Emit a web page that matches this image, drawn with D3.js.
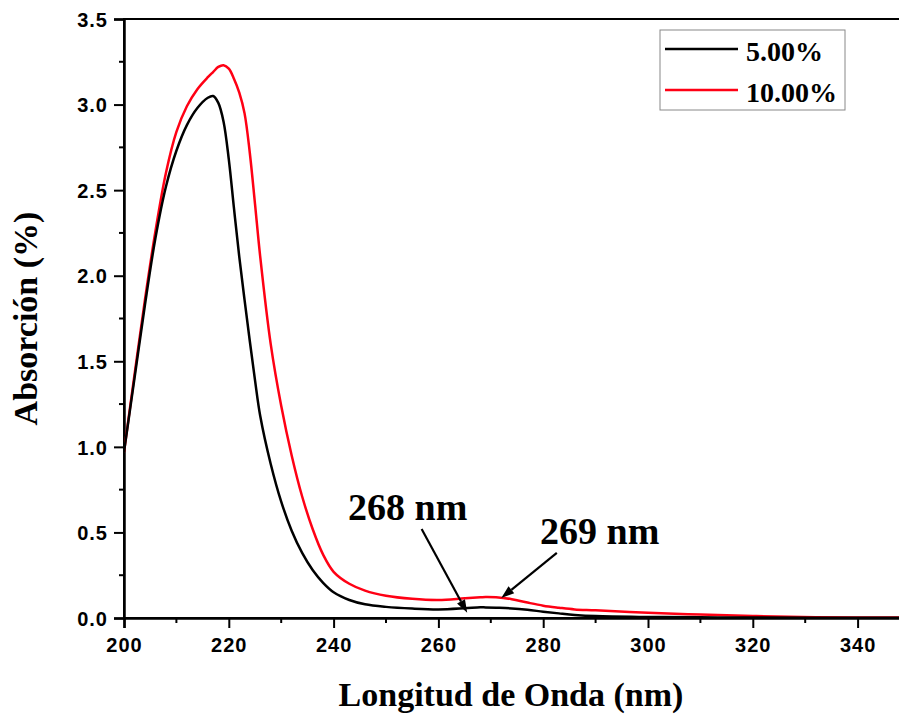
<!DOCTYPE html>
<html>
<head>
<meta charset="utf-8">
<script src="https://cdnjs.cloudflare.com/ajax/libs/d3/7.8.5/d3.min.js"></script>
<style>
    body { margin: 0; background: #fff; }
    .tick text { font-family: "Liberation Sans", Arial, sans-serif; font-weight: bold; font-size: 20px; letter-spacing: 1px; }
    .title { font-family: "Liberation Serif", "Times New Roman", serif; font-weight: bold; }
</style>
</head>
<body>
<svg id="chart" width="899" height="715"></svg>
<script>
// wavelength (nm) and absorption for both concentrations
var wavelength = [200, 202, 204, 206, 208, 210, 212, 214, 216, 217, 218, 219, 220, 221, 222, 223, 224, 225, 226,
                  228, 230, 232, 234, 236, 238, 240, 243, 246, 250, 255, 260, 265, 268, 269, 271, 274, 277, 280,
                  283, 286, 290, 300, 310, 320, 332, 350];
var abs5 = [0.97, 1.40, 1.83, 2.22, 2.52, 2.73, 2.88, 2.98, 3.04, 3.05, 3.01, 2.90, 2.68, 2.39, 2.11, 1.86, 1.62, 1.39, 1.18,
            0.90, 0.68, 0.51, 0.38, 0.28, 0.205, 0.150, 0.105, 0.080, 0.065, 0.055, 0.050, 0.057, 0.063, 0.062, 0.060, 0.056, 0.048, 0.037,
            0.027, 0.018, 0.011, 0.006, 0.004, 0.003, 0.002, 0.002];
var abs10 = [0.97, 1.42, 1.86, 2.26, 2.60, 2.84, 2.99, 3.09, 3.16, 3.19, 3.22, 3.23, 3.21, 3.15, 3.07, 2.95, 2.72, 2.42, 2.11,
             1.60, 1.24, 0.95, 0.71, 0.52, 0.37, 0.27, 0.20, 0.16, 0.130, 0.112, 0.105, 0.115, 0.121, 0.123, 0.121, 0.110, 0.090, 0.072,
             0.060, 0.050, 0.045, 0.030, 0.020, 0.012, 0.005, 0.003];

var seriesNames = ["5.00%", "10.00%"];
var seriesColors = ["#000000", "#ff0014"];

// peak labels: text, arrow start and arrow tip in data units
var peakLabels = ["268 nm", "269 nm"];
var arrowFrom = [[256.8, 0.52], [282.6, 0.38]];
var arrowTo = [[265.5, 0.03], [272.0, 0.117]];

var xTicks = [200, 220, 240, 260, 280, 300, 320, 340];
var yTicks = [0.0, 0.5, 1.0, 1.5, 2.0, 2.5, 3.0, 3.5];

var svg = d3.select("#chart");
var plotLeft = 124, plotTop = 19, plotRight = 910, plotBottom = 618;

var x = d3.scaleLinear().domain([200, 350]).range([plotLeft, plotRight]);
var y = d3.scaleLinear().domain([0, 3.5]).range([plotBottom, plotTop]);

svg.append("defs").append("clipPath").attr("id", "plotClip")
    .append("rect").attr("x", plotLeft).attr("y", plotTop)
    .attr("width", plotRight - plotLeft).attr("height", plotBottom - plotTop);

// frame
svg.append("rect")
    .attr("x", plotLeft).attr("y", plotTop)
    .attr("width", plotRight - plotLeft).attr("height", plotBottom - plotTop)
    .style("fill", "none").style("stroke", "#000").style("stroke-width", 2);

// minor ticks
svg.append("g").selectAll("line")
    .data(d3.range(210, 350, 20))
    .enter().append("line")
    .attr("x1", function(d) { return x(d); }).attr("x2", function(d) { return x(d); })
    .attr("y1", plotBottom).attr("y2", plotBottom + 5)
    .style("stroke", "#000").style("stroke-width", 2);
svg.append("g").selectAll("line")
    .data(d3.range(0.25, 3.5, 0.5))
    .enter().append("line")
    .attr("x1", plotLeft - 5).attr("x2", plotLeft)
    .attr("y1", function(d) { return y(d); }).attr("y2", function(d) { return y(d); })
    .style("stroke", "#000").style("stroke-width", 2);

var xAxis = svg.append("g")
    .attr("transform", "translate(0," + plotBottom + ")")
    .call(d3.axisBottom(x).tickValues(xTicks).tickFormat(d3.format("d")).tickSize(10).tickPadding(10));
var yAxis = svg.append("g")
    .attr("transform", "translate(" + plotLeft + ",0)")
    .call(d3.axisLeft(y).tickValues(yTicks).tickFormat(d3.format(".1f")).tickSize(10).tickPadding(6));

[xAxis, yAxis].forEach(function(a) {
    a.select(".domain").style("stroke-width", 2.5);
    a.selectAll(".tick line").style("stroke-width", 2);
    a.selectAll(".tick text").style("fill", "#000");
});
yAxis.selectAll(".tick text").attr("dy", "0.36em");

// curves
var rows = wavelength.map(function(w, i) { return { w: w, v: [abs5[i], abs10[i]] }; });
var plot = svg.append("g").attr("clip-path", "url(#plotClip)");

[1, 0].forEach(function(k) {
    var line = d3.line()
        .x(function(d) { return x(d.w); })
        .y(function(d) { return y(d.v[k]); })
        .curve(d3.curveCatmullRom.alpha(0.5));
    plot.append("path")
        .datum(rows)
        .attr("d", line)
        .style("fill", "none")
        .style("stroke", seriesColors[k])
        .style("stroke-width", 2.5)
        .style("stroke-linejoin", "round");
});

// axis titles
svg.append("text").attr("class", "title")
    .attr("x", 511).attr("y", 706)
    .attr("text-anchor", "middle")
    .style("font-size", "34px")
    .text("Longitud de Onda (nm)");
svg.append("text").attr("class", "title")
    .attr("transform", "translate(37," + (plotTop + plotBottom) / 2 + ") rotate(-90)")
    .attr("text-anchor", "middle")
    .style("font-size", "34px")
    .text("Absorción (%)");

// legend
var legend = svg.append("g");
legend.append("rect")
    .attr("x", 660).attr("y", 30).attr("width", 185).attr("height", 80)
    .style("fill", "#fff").style("stroke", "#888").style("stroke-width", 1);
seriesNames.forEach(function(name, i) {
    legend.append("line")
        .attr("x1", 665).attr("x2", 738)
        .attr("y1", 49 + i * 41).attr("y2", 49 + i * 41)
        .style("stroke", seriesColors[i]).style("stroke-width", 2.5);
    legend.append("text").attr("class", "title")
        .attr("x", 746).attr("y", 61 + i * 41)
        .style("font-size", "28px")
        .text(name);
});

// peak annotations
var labelPos = [[348, 520], [540, 544]];
peakLabels.forEach(function(t, i) {
    svg.append("text").attr("class", "title")
        .attr("x", labelPos[i][0]).attr("y", labelPos[i][1])
        .style("font-size", "38px")
        .text(t);

    var x0 = x(arrowFrom[i][0]), y0 = y(arrowFrom[i][1]);
    var x1 = x(arrowTo[i][0]), y1 = y(arrowTo[i][1]);
    var ang = Math.atan2(y1 - y0, x1 - x0);
    var len = 13, half = 4.5;
    var bx = x1 - len * Math.cos(ang), by = y1 - len * Math.sin(ang);
    svg.append("line")
        .attr("x1", x0).attr("y1", y0).attr("x2", bx).attr("y2", by)
        .style("stroke", "#000").style("stroke-width", 2.2);
    svg.append("path")
        .attr("d", "M" + x1 + "," + y1 +
            "L" + (bx + half * Math.sin(ang)) + "," + (by - half * Math.cos(ang)) +
            "L" + (bx - half * Math.sin(ang)) + "," + (by + half * Math.cos(ang)) + "Z")
        .style("fill", "#000");
});
</script>
</body>
</html>
